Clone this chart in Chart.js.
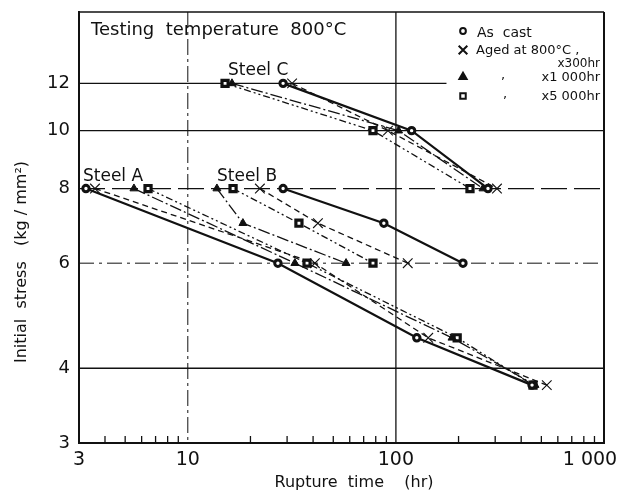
<!DOCTYPE html>
<html lang="en"><head>
<meta charset="utf-8">
<title>Creep rupture - steels A, B, C at 800°C</title>
<style>
html,body { margin:0; padding:0; background:#fff; }
#box { width:623px; height:498px; }
</style>
<script src="https://cdn.jsdelivr.net/npm/chart.js@4"></script>
<script>
// initial stress levels (kg/mm2) tested for each steel
stressA=[8,6,4.5,3.75];
stressB=[8,7,6];
stressC=[12,10,8];

// rupture times (hr) : as cast / aged 300hr / aged 1000hr / aged 5000hr
timeA_cast=[3.24,27.1,126,451];
timeA_300=[3.58,40.8,143,531];
timeA_1000=[5.51,32.7,186,466];
timeA_5000=[6.44,37.4,197,456];

timeB_cast=[28.7,87.5,210];
timeB_300=[22.2,42.2,114];
timeB_1000=[13.8,18.4,57.6];
timeB_5000=[16.5,34.2,77.6];

timeC_cast=[28.7,119,277];
timeC_300=[31.7,91.6,306];
timeC_1000=[16.3,103,262];
timeC_5000=[15.1,77.6,227];

// axis ticks
xTicks=[3,10,100,1000];
xTickLabels=["3","10","100","1 000"];
xMinor=[4,5,6,7,8,9,20,30,40,50,60,70,80,90,200,300,400,500,600,700,800,900];
yTicks=[3,4,6,8,10,12];

INK="#111";
FONT='"DejaVu Sans", sans-serif';

// marker + line look of each ageing condition
cond={
  cast:{pointStyle:'circle',pointRadius:3.2,pointBorderWidth:3,pointBackgroundColor:'#fff',borderWidth:2.2,borderDash:[]},
  h300:{pointStyle:'crossRot',pointRadius:6.8,pointBorderWidth:1.1,pointBackgroundColor:'#fff',borderWidth:1.3,borderDash:[6,4]},
  h1000:{pointStyle:'triangle',pointRadius:4.6,pointBorderWidth:1,pointBackgroundColor:INK,borderWidth:1.3,borderDash:[12,3,2,3]},
  h5000:{pointStyle:'rect',pointRadius:4.3,pointBorderWidth:3.2,pointBackgroundColor:'#fff',borderWidth:1.3,borderDash:[7,3,2,3,2,3]}
};

function series(label,times,stress,st) {
  var pts=[];
  for (i=0;i<times.length;i++) { pts.push({x:times[i],y:stress[i]}); }
  return Object.assign({label:label,data:pts,borderColor:INK,pointBorderColor:INK,
    tension:0,fill:false,pointHoverRadius:st.pointRadius},st); }

function logTicks(list) {
  return function(scale) { scale.ticks=list.map(function(v){return {value:v};}); }; }

// reference lines, frame, labels and the key
paper={
  id:'paper',
  beforeDatasetsDraw(chart) {
    var c=chart.ctx, a=chart.chartArea, x=chart.scales.x, y=chart.scales.y;
    c.save(); c.strokeStyle=INK;
    var hl=[{v:4,d:[],w:1.5},{v:6,d:[15,5,3,5],w:1},{v:8,d:[26,7],w:1.2},{v:10,d:[],w:1.3},{v:12,d:[],w:1.3,to:175}];
    hl.forEach(function(g){
      var py=y.getPixelForValue(g.v), x2=g.to?x.getPixelForValue(g.to):a.right;
      c.lineWidth=g.w; c.setLineDash(g.d);
      c.beginPath(); c.moveTo(a.left,py); c.lineTo(x2,py); c.stroke(); });
    var vl=[{v:10,d:[16,4,3,4],w:1},{v:100,d:[],w:1.3}];
    vl.forEach(function(g){
      var px=x.getPixelForValue(g.v);
      c.lineWidth=g.w; c.setLineDash(g.d);
      c.beginPath(); c.moveTo(px,a.top); c.lineTo(px,a.bottom); c.stroke(); });
    // minor ticks pointing inward from the time axis
    c.setLineDash([]); c.lineWidth=1.3;
    xMinor.forEach(function(v){
      var px=x.getPixelForValue(v);
      c.beginPath(); c.moveTo(px,a.bottom); c.lineTo(px,a.bottom-7); c.stroke(); });
    c.restore(); },
  afterDraw(chart) {
    var c=chart.ctx, a=chart.chartArea, x=chart.scales.x;
    c.save(); c.strokeStyle=INK; c.fillStyle=INK;
    // top and right frame
    c.lineWidth=1.6; c.beginPath(); c.moveTo(a.left,a.top); c.lineTo(a.right,a.top); c.stroke();
    c.lineWidth=2; c.beginPath(); c.moveTo(a.right,a.top); c.lineTo(a.right,a.bottom); c.stroke();

    // time axis labels
    c.font='19px '+FONT; c.textAlign='center'; c.textBaseline='middle';
    xTicks.forEach(function(v,i){
      var px=x.getPixelForValue(v);
      if (v==1000) { px-=14; }
      c.fillText(xTickLabels[i],px,a.bottom+17); });

    // axis titles
    c.font='16px '+FONT;
    c.fillText("Rupture  time    (hr)",354,483);
    c.save(); c.translate(22,262); c.rotate(-Math.PI/2);
    c.fillText("Initial  stress   (kg / mm²)",0,0); c.restore();

    // annotations
    c.textAlign='left'; c.textBaseline='alphabetic';
    c.font='18px '+FONT;
    c.fillText("Testing  temperature  800°C",91,35);
    c.font='17px '+FONT;
    c.fillText("Steel A",83,181);
    c.fillText("Steel B",217,181);
    c.fillText("Steel C",228,75);

    // key
    var keyX=463;
    var rows=[[cond.cast,31],[cond.h300,50],[cond.h1000,77],[cond.h5000,96]];
    rows.forEach(function(r){
      var st=r[0];
      c.fillStyle=st.pointBackgroundColor; c.strokeStyle=INK; c.setLineDash([]);
      Chart.helpers.drawPoint(c,{pointStyle:st.pointStyle,radius:st.pointRadius*0.9,
        borderWidth:st.pointBorderWidth,rotation:0},keyX,r[1]); });
    c.fillStyle=INK; c.textBaseline='middle';
    c.font='14px '+FONT; c.fillText("As  cast",477,33);
    c.font='13px '+FONT; c.fillText("Aged at 800°C ,",476,51);
    c.textAlign='right';
    c.font='12px '+FONT; c.fillText("x300hr",600,64);
    c.font='13px '+FONT; c.fillText("x1 000hr",600,78); c.fillText("x5 000hr",600,97);
    c.textAlign='center';
    c.fillText(",",503,76); c.fillText(",",505,95);
    c.restore(); }
};

function initChart() {
  var data={datasets:[
    series('A as cast',timeA_cast,stressA,cond.cast),
    series('A aged 300hr',timeA_300,stressA,cond.h300),
    series('A aged 1000hr',timeA_1000,stressA,cond.h1000),
    series('A aged 5000hr',timeA_5000,stressA,cond.h5000),
    series('B as cast',timeB_cast,stressB,cond.cast),
    series('B aged 300hr',timeB_300,stressB,cond.h300),
    series('B aged 1000hr',timeB_1000,stressB,cond.h1000),
    series('B aged 5000hr',timeB_5000,stressB,cond.h5000),
    series('C as cast',timeC_cast,stressC,cond.cast),
    series('C aged 300hr',timeC_300,stressC,cond.h300),
    series('C aged 1000hr',timeC_1000,stressC,cond.h1000),
    series('C aged 5000hr',timeC_5000,stressC,cond.h5000)]};

  var config={type:'line',data:data,plugins:[paper],options:{
    responsive:false,animation:false,
    layout:{padding:{left:0,top:12,right:19,bottom:0}},
    plugins:{legend:{display:false},tooltip:{enabled:false}},
    scales:{
      x:{type:'logarithmic',min:3,max:1000,
        afterBuildTicks:logTicks(xTicks),
        afterFit:function(s){s.height=55; s.paddingLeft=0; s.paddingRight=0;},
        grid:{display:false},border:{display:true,color:INK,width:2},
        ticks:{display:false}},
      y:{type:'logarithmic',min:3,max:15.8,
        afterBuildTicks:logTicks(yTicks),
        afterFit:function(s){s.width=79; s.paddingTop=0; s.paddingBottom=0;},
        grid:{display:false,drawTicks:false},border:{display:true,color:INK,width:2},
        ticks:{color:INK,padding:9,font:{family:FONT,size:18},
          callback:function(v){return String(v);}}}}}};

  new Chart(document.getElementById('myChart'),config); }
</script></head>
<body onload="initChart();">
<div id="box"><canvas id="myChart" width="623" height="498"></canvas></div>
</body></html>
